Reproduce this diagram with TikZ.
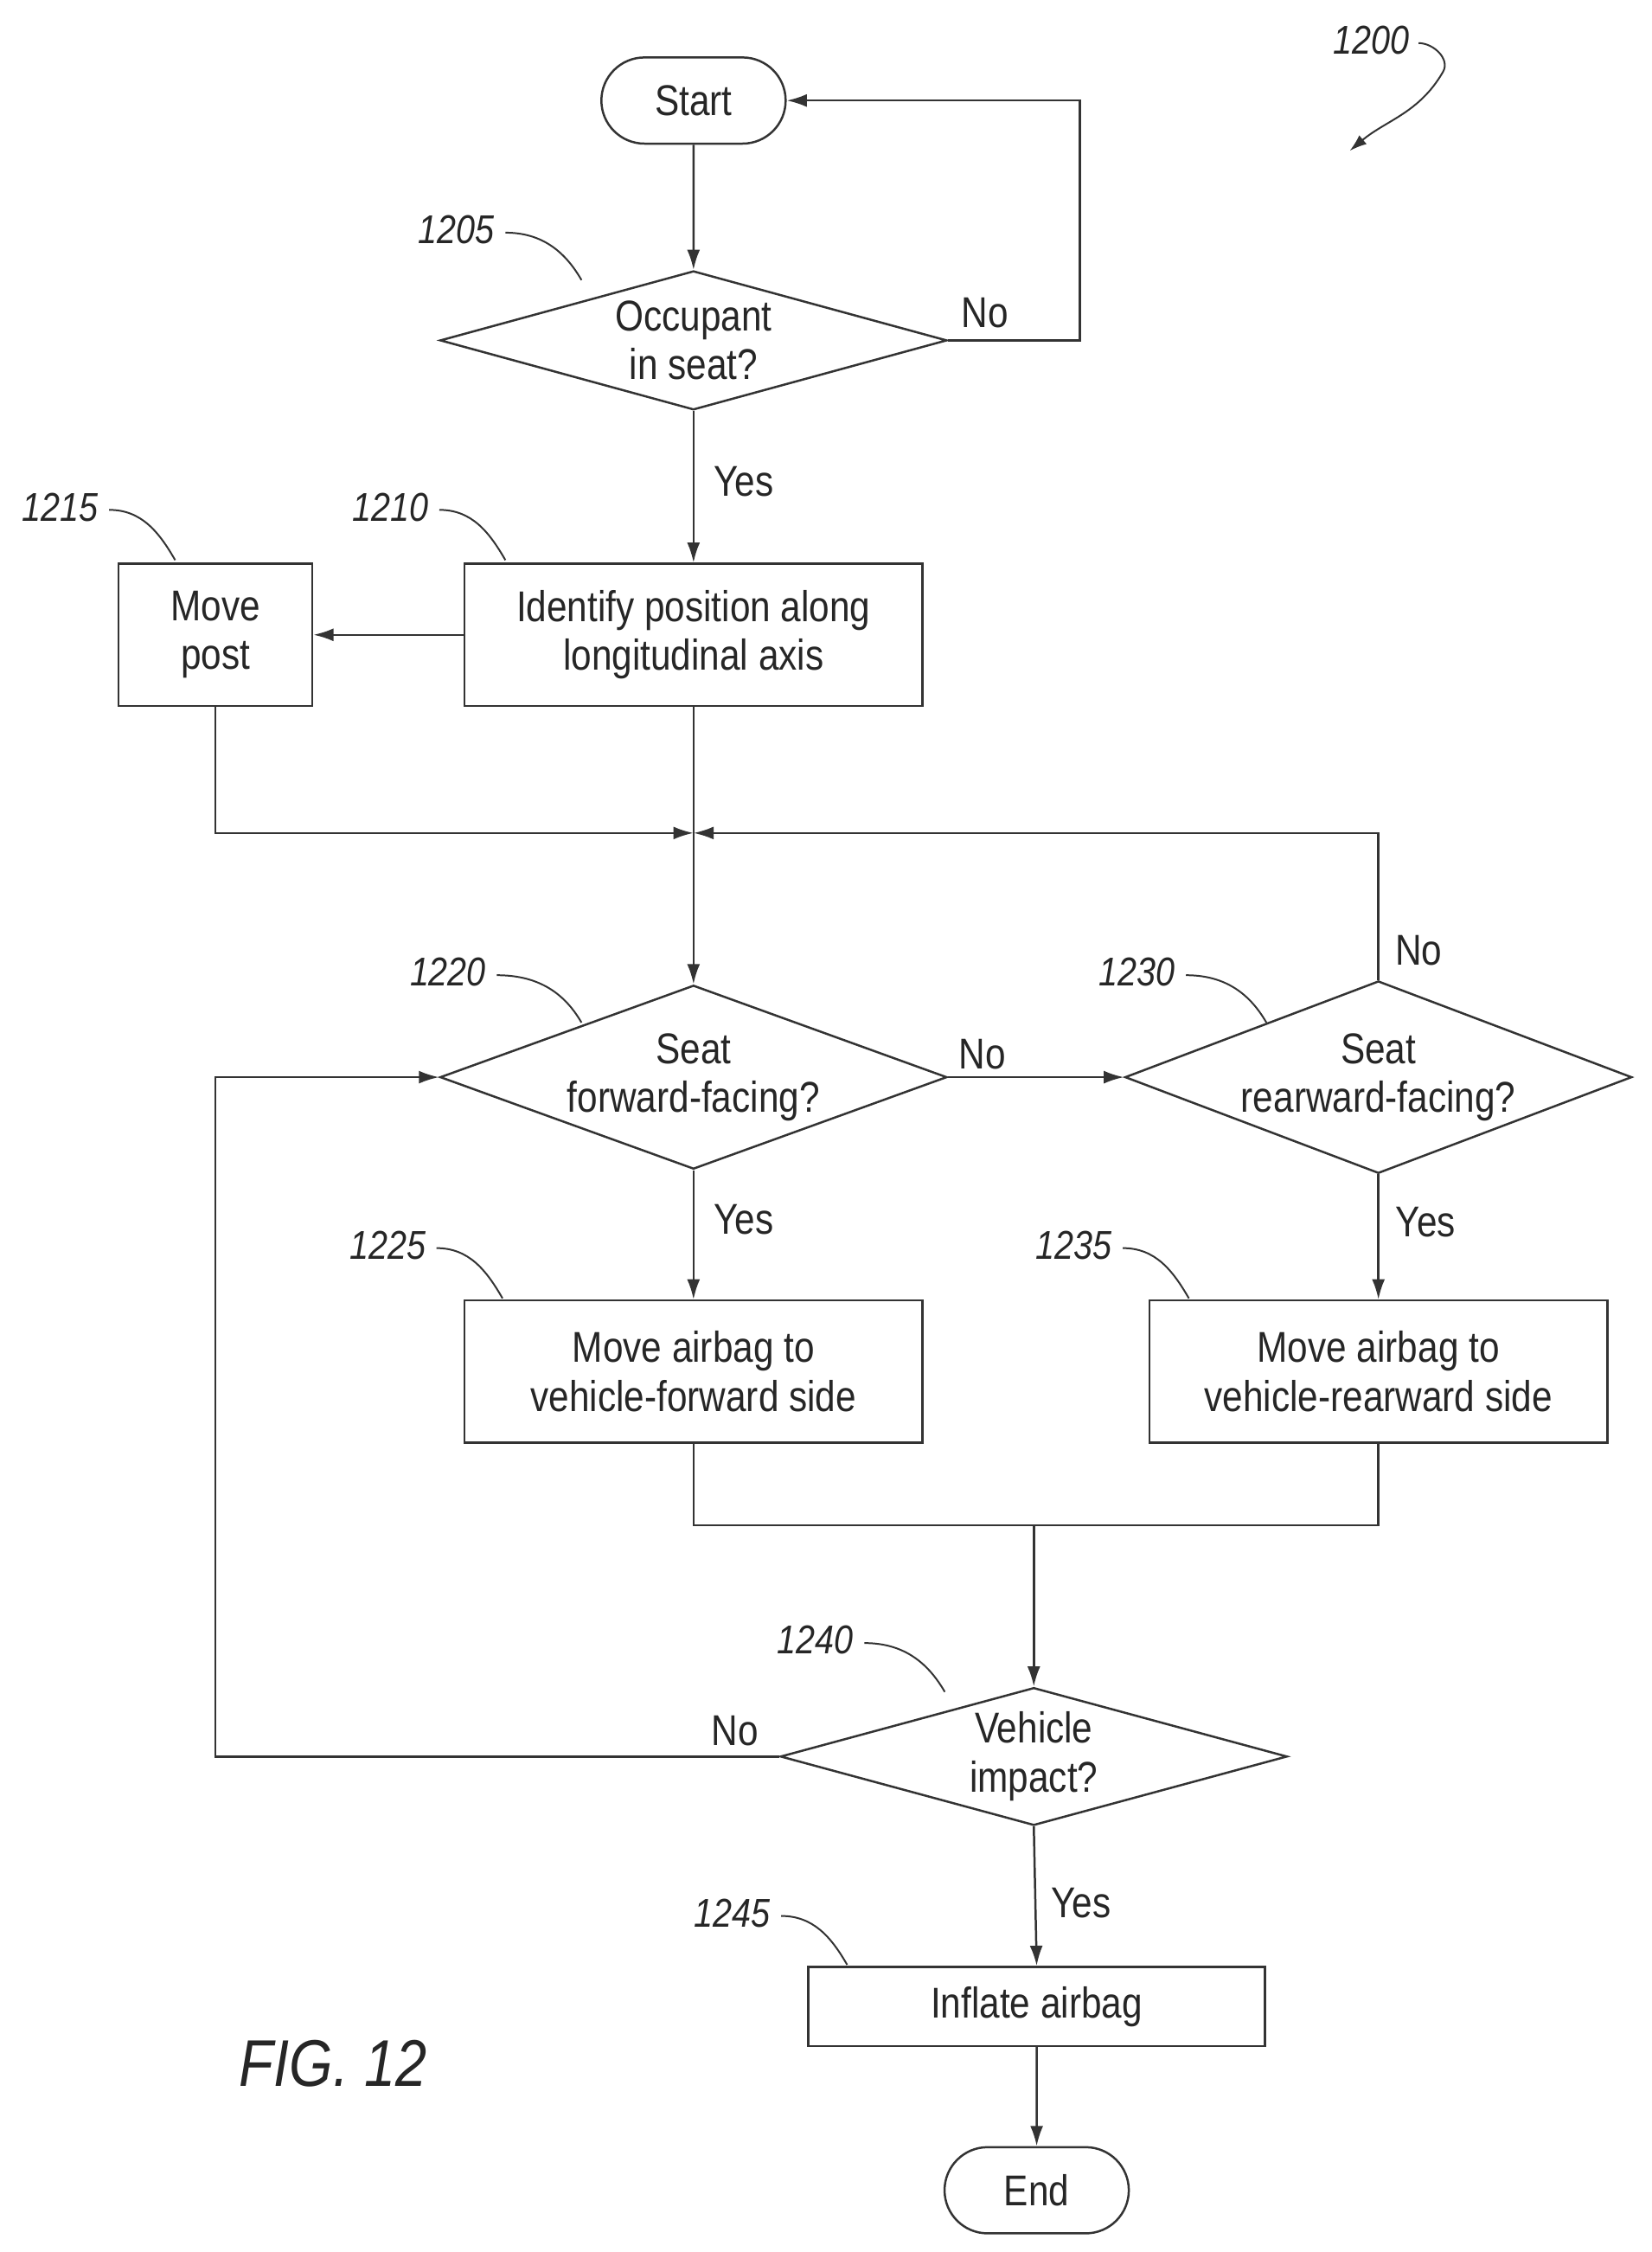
\documentclass[tikz,border=0pt]{standalone}
\usepackage{fontspec}
\setmainfont{Liberation Sans}[FakeStretch=0.85]
\usetikzlibrary{shapes.geometric,arrows.meta}
\begin{document}
\begin{tikzpicture}[x=1pt,y=-1pt,line width=1.5pt,draw=black!80,
  every node/.style={font=\fontsize{30}{34}\selectfont,text=black!85},
  box/.style={draw,minimum width=#1,minimum height=99pt,align=center,inner sep=0},
  dia/.style={draw,diamond,aspect=2.63,minimum width=353pt,align=center,inner sep=0},
  term/.style={draw,rounded rectangle,minimum width=135pt,minimum height=60pt},
  ref/.style={font=\itshape\fontsize{28}{30}\selectfont},
  lead/.style={line width=1.2pt},
  arr/.style={-{Latex[length=14pt,width=9pt]}}]
\useasboundingbox (0,0) rectangle (1150,1568);
\usetikzlibrary{shapes.misc}
\node[term] (start) at (483,70) {Start};
\node[dia] (d1205) at (483,237) {Occupant\\in seat?};
\node[box=319pt] (b1210) at (483,442) {Identify position along\\longitudinal axis};
\node[box=135pt] (b1215) at (150,442) {Move\\post};
\coordinate (m) at (483,580);
\node[dia] (d1220) at (483,750) {Seat\\forward-facing?};
\node[dia] (d1230) at (960,750) {Seat\\rearward-facing?};
\node[box=319pt] (b1225) at (483,955) {Move airbag to\\vehicle-forward side};
\node[box=319pt] (b1235) at (960,955) {Move airbag to\\vehicle-rearward side};
\coordinate (j) at (720,1062);
\node[dia] (d1240) at (720,1223) {Vehicle\\impact?};
\node[box=318pt,minimum height=55pt] (b1245) at (722,1397) {Inflate airbag};
\node[term] (end) at (722,1525) {End};

\draw[arr] (start) -- (d1205);
\draw[arr] (d1205.east) -- (752,237) -- (752,70) -- (start.east);
\node at (686,218) {No};
\draw[arr] (d1205.south) -- (b1210.north);
\node at (518,335) {Yes};
\draw[arr] (b1210.west) -- (b1215.east);
\draw (b1210.south) -- (m);
\draw[arr] (b1215.south) -- (150,580) -- (m);
\draw[arr] (m) -- (d1220.north);
\draw[arr] (d1230.north) -- (960,580) -- (m);
\node at (988,662) {No};
\draw[arr] (d1220.east) -- (d1230.west);
\node at (684,734) {No};
\draw[arr] (d1220.south) -- (b1225.north);
\node at (518,849) {Yes};
\draw[arr] (d1230.south) -- (b1235.north);
\node at (993,851) {Yes};
\draw (b1225.south) -- (483,1062) -- (960,1062) -- (b1235.south);
\draw[arr] (j) -- (d1240.north);
\draw[arr] (d1240.west) -- (150,1223) -- (150,750) -- (d1220.west);
\node at (512,1205) {No};
\draw[arr] (d1240.south) -- (b1245.north);
\node at (753,1325) {Yes};
\draw[arr] (b1245) -- (end);

\node[ref] at (318,160) {1205};
\draw[lead] (352,162) to[out=0,in=120] (405,195);
\node[ref] at (272,353) {1210};
\draw[lead] (306,355) to[out=0,in=120] (352,390);
\node[ref] at (42,353) {1215};
\draw[lead] (76,355) to[out=0,in=120] (122,390);
\node[ref] at (312,677) {1220};
\draw[lead] (346,679) to[out=0,in=120] (405,712);
\node[ref] at (792,677) {1230};
\draw[lead] (826,679) to[out=0,in=120] (882,712);
\node[ref] at (270,867) {1225};
\draw[lead] (304,869) to[out=0,in=120] (350,904);
\node[ref] at (748,867) {1235};
\draw[lead] (782,869) to[out=0,in=120] (828,904);
\node[ref] at (568,1142) {1240};
\draw[lead] (602,1144) to[out=0,in=120] (658,1178);
\node[ref] at (510,1332) {1245};
\draw[lead] (544,1334) to[out=0,in=120] (590,1368);
\node[ref] at (955,28) {1200};
\draw[lead,-{Latex[length=12pt,width=8pt]}] (988,30) to[out=0,in=60] (1005,50) to[out=240,in=40] (940,105);
\node[font=\itshape\fontsize{46}{50}\selectfont] at (232,1437) {FIG. 12};
\end{tikzpicture}
\end{document}
